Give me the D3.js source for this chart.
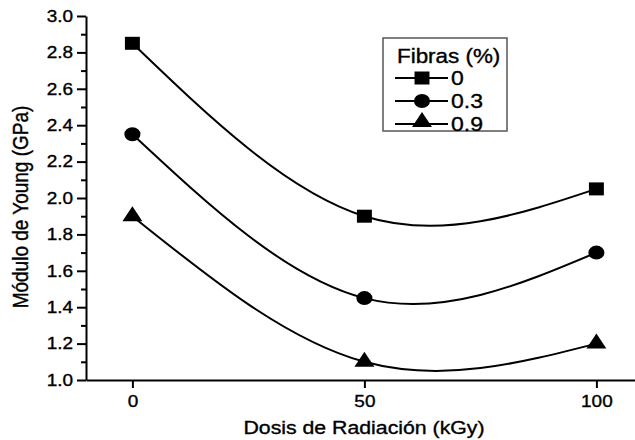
<!DOCTYPE html>
<html>
<head>
<meta charset="utf-8">
<script src="https://cdn.jsdelivr.net/npm/d3@7"></script>
<style>
  html, body { margin: 0; padding: 0; background: #fff; }
  svg { display: block; }
  text { font-family: "Liberation Sans", Arial, sans-serif; fill: #000; stroke: #000; stroke-width: 0.35px; }
</style>
</head>
<body>
<svg id="chart" width="635" height="440"></svg>
<script>
// Radiation dose (kGy) on x
const doses = [0, 50, 100];
// Young's modulus (GPa) for each fibre content
const fibras = ["0", "0.3", "0.9"];
const modulo0 = [2.85, 1.90, 2.05];
const modulo03 = [2.35, 1.45, 1.70];
const modulo09 = [1.90, 1.10, 1.20];
const yTicks = [1.0, 1.2, 1.4, 1.6, 1.8, 2.0, 2.2, 2.4, 2.6, 2.8, 3.0];
const xTicks = [0, 50, 100];

const seriesValues = [modulo0, modulo03, modulo09];
const symbols = [d3.symbolSquare, d3.symbolCircle, d3.symbolTriangle];
const symbolSizes = [169, 154, 130];
const SX = 1.15; // horizontal stretch of glyphs and markers

const svg = d3.select("#chart");

const x = d3.scaleLinear().domain([-10, 110]).range([86, 86 + 120 * 4.64]);
const y = d3.scaleLinear().domain([1.0, 3.0]).range([380, 16]);

function stretchText(sel) {
  sel.each(function () {
    const tx = +this.getAttribute("x") || 0;
    const ty = +this.getAttribute("y") || 0;
    this.setAttribute("transform",
      `translate(${tx},${ty}) scale(${SX},1) translate(${-tx},${-ty})`);
  });
}

// Curves
const line = d3.line()
  .x((d, i) => x(doses[i]))
  .y(d => y(d))
  .curve(d3.curveNatural);

svg.append("g").selectAll("path.curve")
  .data(seriesValues)
  .join("path")
  .attr("class", "curve")
  .attr("d", d => line(d))
  .attr("fill", "none")
  .attr("stroke", "#000")
  .attr("stroke-width", 2);

// Markers
seriesValues.forEach((vals, s) => {
  const sym = d3.symbol().type(symbols[s]).size(symbolSizes[s]);
  svg.append("g").selectAll("path")
    .data(vals)
    .join("path")
    .attr("d", sym)
    .attr("transform", (d, i) => `translate(${x(doses[i])},${y(d)}) scale(${SX},1)`)
    .attr("fill", "#000");
});

// Y axis with minor ticks
const yMinor = d3.range(1.1, 3.0, 0.2);
svg.append("g")
  .attr("transform", "translate(86,0)")
  .call(d3.axisLeft(y).tickValues(yMinor).tickSize(5).tickFormat(""))
  .call(g => g.select(".domain").remove())
  .call(g => g.selectAll("line").attr("stroke-width", 2));

const yAxis = svg.append("g")
  .attr("transform", "translate(86,0)")
  .call(d3.axisLeft(y).tickValues(yTicks).tickSize(9).tickPadding(4).tickFormat(d3.format(".1f")).tickSizeOuter(0));
yAxis.select(".domain").attr("stroke-width", 2);
yAxis.selectAll("line").attr("stroke-width", 2);
yAxis.selectAll("text").attr("font-size", 16.5).attr("fill", "#000")
  .call(stretchText);

// X axis
const xAxis = svg.append("g")
  .attr("transform", "translate(0,380)")
  .call(d3.axisBottom(x).tickValues(xTicks).tickSize(8).tickPadding(7).tickSizeOuter(0));
xAxis.select(".domain").attr("stroke-width", 2);
xAxis.selectAll("line").attr("stroke-width", 2);
xAxis.selectAll("text").attr("font-size", 16.5).attr("fill", "#000")
  .call(stretchText);

// Axis titles
svg.append("text")
  .attr("x", 364).attr("y", 434)
  .attr("text-anchor", "middle")
  .attr("font-size", 18.5)
  .text("Dosis de Radiación (kGy)")
  .call(stretchText);

svg.append("text")
  .attr("transform", "translate(28,207) rotate(-90) scale(1,1.2)")
  .attr("text-anchor", "middle")
  .attr("font-size", 19)
  .text("Módulo de Young (GPa)");

// Legend
const legend = svg.append("g");
legend.append("rect")
  .attr("x", 383).attr("y", 38).attr("width", 124).attr("height", 93)
  .attr("fill", "#fff").attr("stroke", "#555").attr("stroke-width", 1.5);
legend.append("text")
  .attr("x", 397).attr("y", 63)
  .attr("font-size", 19.5)
  .text("Fibras (%)")
  .call(stretchText);

fibras.forEach((f, s) => {
  const cy = 78 + s * 23;
  legend.append("line")
    .attr("x1", 395).attr("x2", 448).attr("y1", cy).attr("y2", cy)
    .attr("stroke", "#000").attr("stroke-width", 2);
  legend.append("path")
    .attr("d", d3.symbol().type(symbols[s]).size(symbolSizes[s])())
    .attr("transform", `translate(422,${s === 2 ? cy - 2 : cy}) scale(${SX},1)`)
    .attr("fill", "#000");
  legend.append("text")
    .attr("x", 451).attr("y", cy + 7.5)
    .attr("font-size", 20)
    .text(f)
    .call(stretchText);
});
</script>
</body>
</html>
